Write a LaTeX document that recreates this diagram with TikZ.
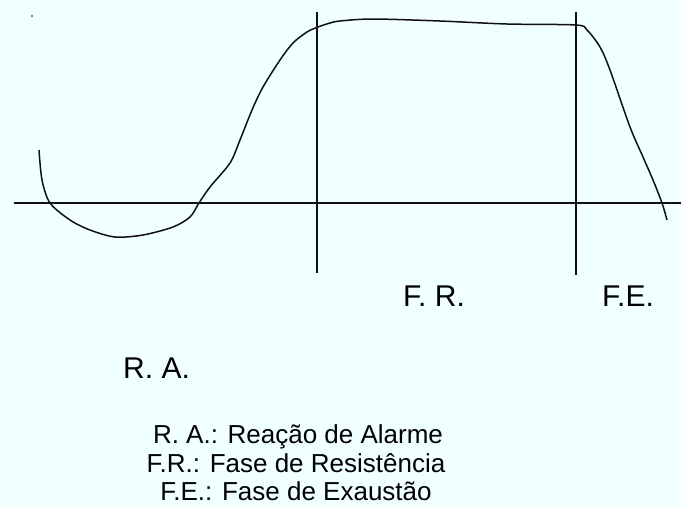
\documentclass[tikz,border=0pt]{standalone}
\usepackage{fontspec}
\setmainfont{Liberation Sans}
\usepackage{xcolor}
\usetikzlibrary{positioning}
\definecolor{paper}{HTML}{F0FFFF}
\definecolor{ink}{HTML}{101010}

\begin{document}
\begin{tikzpicture}[x=1pt,y=-1pt,
    phase/.style={font=\fontsize{30}{34}\selectfont,inner sep=0pt,anchor=base west},
    legend/.style={font=\fontsize{26}{30}\selectfont,inner sep=0pt,anchor=base},
    curve/.style={ink,line width=1.5pt}]
  \fill[paper] (0,0) rectangle (681,507);
  \useasboundingbox (0,0) rectangle (681,507);
  % axis and phase limits
  \coordinate (axl) at (14,203);
  \coordinate (axr) at (681,203);
  \coordinate (fra) at (317,12);
  \coordinate (frb) at (317,273);
  \coordinate (fea) at (576,12);
  \coordinate (feb) at (576,275);
  \draw[ink,line width=1.2pt] (axl) -- (axr);
  \draw[ink,line width=2pt] (fra) -- (frb);
  \draw[ink,line width=1.3pt] (fea) -- (feb);
  \fill[ink] (32,16) circle (0.8);
  % stress curve
  \draw[curve] plot[smooth,tension=0.5] coordinates {
    (39,150) (42,180) (50,203) (70,220) (90,230) (115,237) (143,235)
    (173,227) (190,217) (199,203) (210,187) (230,163) (240,140) (252,110)
    (263,87) (280,60) (293,43) (307,32) (318,27) (330,23) (340,21)
    (373,19) (440,21) (507,24) (576,25) (587,30) (600,47) (610,70)
    (630,127) (643,157) (653,180) (662,203) (667,220)};
  % labels
  \node[phase] (fr) at (403,306) {F. R.};
  \node[phase] (fe) at (602,306) {F.E.};
  \node[phase] (ra) at (123,378) {R. A.};
  \node[legend] (leg1) at (298,443) {R. A.: Reação de Alarme};
  \node[legend] (leg2) at (296,472) {F.R.: Fase de Resistência};
  \node[legend] (leg3) at (296,500) {F.E.: Fase de Exaustão};
\end{tikzpicture}
\end{document}
